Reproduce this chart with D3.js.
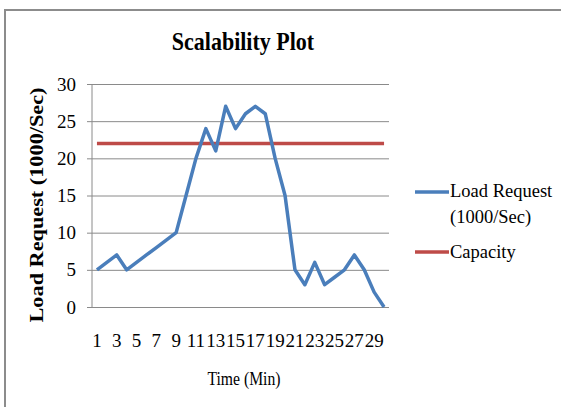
<!DOCTYPE html>
<html>
<head>
<meta charset="utf-8">
<script src="https://cdn.jsdelivr.net/npm/d3@7/dist/d3.min.js"></script>
<style>
  html, body { margin: 0; padding: 0; background: #fff; }
  svg text { font-family: "Liberation Serif", "Times New Roman", serif; fill: #000; }
</style>
</head>
<body>
<svg id="chart" width="561" height="407"></svg>
<script>
// Minutes 1..30
const minutes = d3.range(1, 31);
// Load request per minute (1000/Sec)
const loadRequest = [5, 6, 7, 5, 6, 7, 8, 9, 10, 15, 20, 24, 21, 27, 24, 26, 27, 26, 20, 15, 5, 3, 6, 3, 4, 5, 7, 5, 2, 0];
// Server capacity (1000/Sec)
const capacity = minutes.map(() => 22);
const yTicks = [0, 5, 10, 15, 20, 25, 30];
const seriesNames = ["Load Request (1000/Sec)", "Capacity"];
const seriesColors = ["#4A7EBB", "#BE4B48"];

const svg = d3.select("#chart");

// outer frame
svg.append("path")
  .attr("d", "M5,407 L5,10 L561,10")
  .attr("fill", "none")
  .attr("stroke", "#8c8c8c")
  .attr("stroke-width", 2);

const plot = { left: 92, right: 389, top: 84, bottom: 307 };

const x = d3.scaleBand().domain(minutes).range([plot.left, plot.right]);
const y = d3.scaleLinear().domain([0, 30]).range([plot.bottom, plot.top]);

// horizontal gridlines with outward ticks
const yAxis = d3.axisLeft(y)
  .tickValues(yTicks)
  .tickSize(-(plot.right - plot.left))
  .tickPadding(10);
const gy = svg.append("g").attr("transform", `translate(${plot.left},0)`).call(yAxis);
gy.select(".domain").remove();
gy.selectAll(".tick line")
  .attr("x1", -5)
  .attr("stroke", "#8a8a8a")
  .attr("stroke-width", 1);
gy.selectAll(".tick text")
  .attr("font-size", 19)
  .attr("font-family", "Liberation Serif, serif")
  .attr("x", -16);

// vertical axis line
svg.append("line")
  .attr("x1", plot.left).attr("x2", plot.left)
  .attr("y1", plot.top).attr("y2", plot.bottom)
  .attr("stroke", "#8a8a8a");

// category labels (every other minute)
const xAxis = d3.axisBottom(x)
  .tickValues(minutes.filter(m => m % 2 === 1))
  .tickSize(0)
  .tickPadding(27);
const gx = svg.append("g").attr("transform", `translate(0,${plot.bottom})`).call(xAxis);
gx.select(".domain").remove();
gx.selectAll(".tick text")
  .attr("font-size", 19)
  .attr("font-family", "Liberation Serif, serif");

const line = d3.line()
  .x((d, i) => x(minutes[i]) + x.bandwidth() / 2)
  .y(d => y(d));

svg.append("path")
  .datum(capacity)
  .attr("d", line)
  .attr("fill", "none")
  .attr("stroke", seriesColors[1])
  .attr("stroke-width", 3.5);

svg.append("path")
  .datum(loadRequest)
  .attr("d", line)
  .attr("fill", "none")
  .attr("stroke", seriesColors[0])
  .attr("stroke-width", 3.5)
  .attr("stroke-linejoin", "round");

// title
svg.append("text")
  .attr("transform", "translate(243,50) scale(1,1.17)")
  .attr("text-anchor", "middle")
  .attr("font-size", 22)
  .attr("font-weight", "bold")
  .text("Scalability Plot");

// axis titles
svg.append("text")
  .attr("transform", "translate(43,205) rotate(-90)")
  .attr("text-anchor", "middle")
  .attr("font-size", 19)
  .attr("font-weight", "bold")
  .attr("textLength", 235)
  .attr("lengthAdjust", "spacingAndGlyphs")
  .text(seriesNames[0]);

svg.append("text")
  .attr("x", 244).attr("y", 385)
  .attr("text-anchor", "middle")
  .attr("font-size", 19)
  .attr("textLength", 73)
  .attr("lengthAdjust", "spacingAndGlyphs")
  .text("Time (Min)");

// legend
const legend = svg.append("g");
legend.append("line")
  .attr("x1", 415).attr("x2", 449).attr("y1", 192).attr("y2", 192)
  .attr("stroke", seriesColors[0]).attr("stroke-width", 3.5);
legend.append("text").attr("x", 450).attr("y", 197).attr("font-size", 18.5).text("Load Request");
legend.append("text").attr("x", 450).attr("y", 223).attr("font-size", 18.5).text("(1000/Sec)");
legend.append("line")
  .attr("x1", 415).attr("x2", 449).attr("y1", 252).attr("y2", 252)
  .attr("stroke", seriesColors[1]).attr("stroke-width", 3.5);
legend.append("text").attr("x", 450).attr("y", 258).attr("font-size", 18.5).text(seriesNames[1]);
</script>
</body>
</html>
